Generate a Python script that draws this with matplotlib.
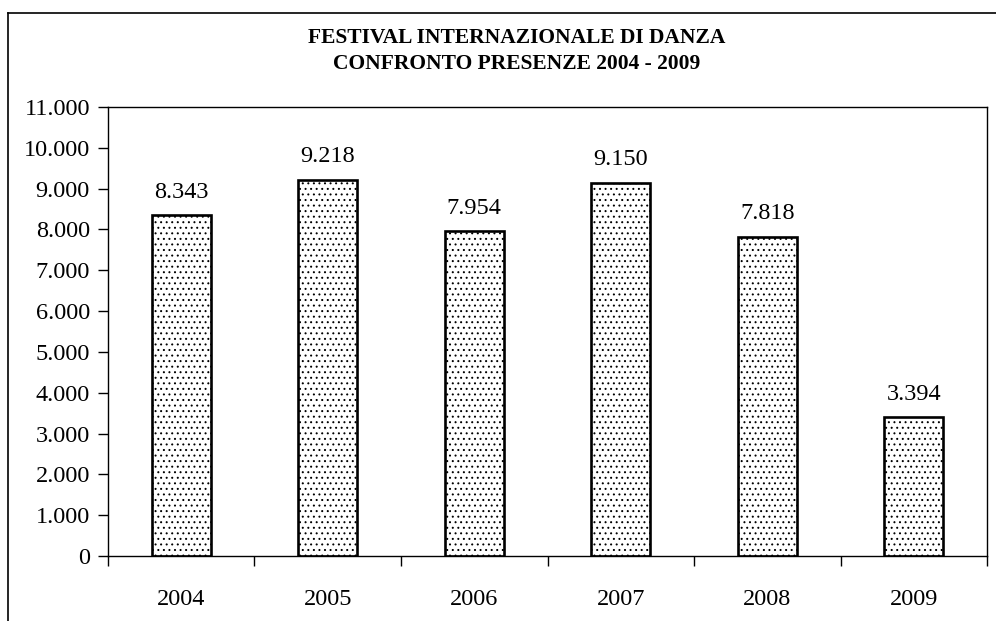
import numpy as np
import matplotlib.pyplot as plt
from matplotlib.lines import Line2D
from matplotlib.ticker import FuncFormatter

anni = ["2004", "2005", "2006", "2007", "2008", "2009"]
presenze = [8343, 9218, 7954, 9150, 7818, 3394]

plt.rcParams['font.family'] = ['Liberation Serif', 'DejaVu Serif']
plt.rcParams['hatch.linewidth'] = 0.7

def fmt_it(v, pos=None):
	return "{:,.0f}".format(v).replace(",", ".")

fig = plt.figure(figsize=(9.96, 6.21), dpi=100)
ax = fig.add_axes([0.1084, 0.1047, 0.8826, 0.723])

x = np.arange(len(anni))
ax.bar(x, presenze, width=0.4, facecolor="white", edgecolor="black",
	linewidth=1.9, hatch="...")

for xi, v in zip(x, presenze):
	ax.text(xi, v + 310, fmt_it(v), ha="center", va="bottom", fontsize=17.5)

ax.set_xlim(-0.5, len(anni) - 0.5)
ax.set_ylim(0, 11000)
ax.set_yticks(np.arange(0, 11001, 1000))
ax.yaxis.set_major_formatter(FuncFormatter(fmt_it))
ax.set_xticks(np.arange(-0.5, len(anni), 1.0))
ax.set_xticklabels([])
ax.set_xticks(x, minor=True)
ax.set_xticklabels(anni, minor=True)
ax.tick_params(axis="x", which="minor", length=0, pad=24, labelsize=17.5)
ax.tick_params(axis="x", which="major", length=7, width=1, direction="out")
ax.tick_params(axis="y", length=7, width=1, direction="out", labelsize=17.5, pad=6)
for s in ax.spines.values():
	s.set_linewidth(1.0)

fig.text(0.519, 0.939, "FESTIVAL INTERNAZIONALE DI DANZA", ha="center", va="center",
	fontsize=15.5, fontweight="bold")
fig.text(0.519, 0.897, "CONFRONTO PRESENZE 2004 - 2009", ha="center", va="center",
	fontsize=15.5, fontweight="bold")

# cornice esterna (solo lati sinistro e superiore visibili)
fig.add_artist(Line2D([0.008, 0.008], [0.0, 0.979], transform=fig.transFigure, color="black", lw=1.2))
fig.add_artist(Line2D([0.008, 1.0], [0.979, 0.979], transform=fig.transFigure, color="black", lw=1.2))

fig.savefig("out.png", dpi=100)
